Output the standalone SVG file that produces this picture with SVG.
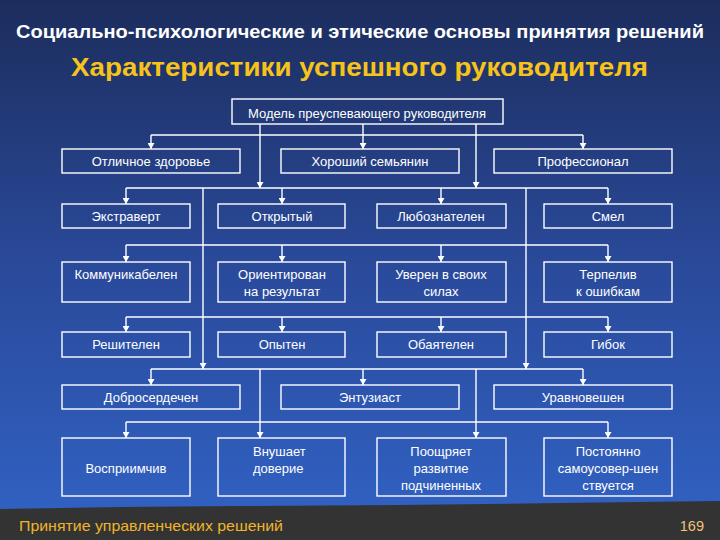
<svg xmlns="http://www.w3.org/2000/svg" width="720" height="540" viewBox="0 0 720 540">
<defs>
<linearGradient id="bg" x1="0" y1="0" x2="0" y2="1">
<stop offset="0" stop-color="#1c2d5d"/>
<stop offset="0.5" stop-color="#2a4a9b"/>
<stop offset="1" stop-color="#3163c6"/>
</linearGradient>
<marker id="ar" markerUnits="userSpaceOnUse" markerWidth="7" markerHeight="7" refX="6" refY="3.5" orient="auto">
<path d="M0,0 L6,3.5 L0,7 z" fill="#ffffff"/>
</marker>
<style>
.box{fill:none;stroke:#ffffff;stroke-width:1.4}
.t{font-family:"Liberation Sans",Arial,sans-serif;font-size:13px;fill:#ffffff;text-anchor:middle}
.ln{fill:none;stroke:#ffffff;stroke-width:1.4}
.a{fill:none;stroke:#ffffff;stroke-width:1.4;marker-end:url(#ar)}
</style>
</defs>
<rect x="0" y="0" width="720" height="540" fill="url(#bg)"/>
<polygon points="0,509 120,507 240,506 400,505 560,503 720,501 720,540 0,540" fill="#333333"/>
<text x="16" y="38" font-family="'Liberation Sans',Arial,sans-serif" font-size="18.5" font-weight="bold" fill="#ffffff" textLength="688" lengthAdjust="spacingAndGlyphs">Социально-психологические и этические основы принятия решений</text>
<text x="71" y="76" font-family="'Liberation Sans',Arial,sans-serif" font-size="26" font-weight="bold" fill="#f7c31a" textLength="577" lengthAdjust="spacingAndGlyphs">Характеристики успешного руководителя</text>
<text x="19" y="531" font-family="'Liberation Sans',Arial,sans-serif" font-size="14.5" fill="#f0b429" textLength="264" lengthAdjust="spacingAndGlyphs">Принятие управленческих решений</text>
<text x="704" y="531" font-family="'Liberation Sans',Arial,sans-serif" font-size="14.5" fill="#f2c27a" text-anchor="end">169</text>

<g id="connectors">
<path class="ln" d="M151,135 H583"/>
<path class="a" d="M363,124 V149"/>
<path class="a" d="M151,135 V149"/>
<path class="a" d="M583,135 V149"/>
<path class="a" d="M260,124 V188"/>
<path class="a" d="M476,124 V188"/>
<path class="ln" d="M126,188 H608"/>
<path class="a" d="M126,188 V204"/>
<path class="a" d="M282,188 V204"/>
<path class="a" d="M441,188 V204"/>
<path class="a" d="M608,188 V204"/>
<path class="a" d="M203,188 V369"/>
<path class="a" d="M526,188 V369"/>
<path class="ln" d="M126,245 H608"/>
<path class="a" d="M126,245 V262"/>
<path class="a" d="M282,245 V262"/>
<path class="a" d="M441,245 V262"/>
<path class="a" d="M608,245 V262"/>
<path class="ln" d="M126,317 H608"/>
<path class="a" d="M126,317 V332"/>
<path class="a" d="M282,317 V332"/>
<path class="a" d="M441,317 V332"/>
<path class="a" d="M608,317 V332"/>
<path class="ln" d="M151,369 H583"/>
<path class="a" d="M151,369 V385"/>
<path class="a" d="M363,369 V385"/>
<path class="a" d="M583,369 V385"/>
<path class="a" d="M260,369 V438"/>
<path class="a" d="M476,369 V438"/>
<path class="ln" d="M126,422 H608"/>
<path class="a" d="M126,422 V438"/>
<path class="a" d="M608,422 V438"/>
</g>

<g id="model"><rect class="box" x="232" y="99" width="271" height="25"/><text class="t" x="367" y="118">Модель преуспевающего руководителя</text></g>

<g id="n-health"><rect class="box" x="62" y="149" width="178" height="24"/><text class="t" x="151" y="165.5">Отличное здоровье</text></g>
<g id="n-family"><rect class="box" x="281" y="149" width="178" height="24"/><text class="t" x="370" y="165.5">Хороший семьянин</text></g>
<g id="n-prof"><rect class="box" x="494" y="149" width="178" height="24"/><text class="t" x="583" y="165.5">Профессионал</text></g>

<g id="n-extra"><rect class="box" x="62" y="204" width="128" height="24"/><text class="t" x="126" y="220.5">Экстраверт</text></g>
<g id="n-open"><rect class="box" x="218" y="204" width="127" height="24"/><text class="t" x="282" y="220.5">Открытый</text></g>
<g id="n-curious"><rect class="box" x="377" y="204" width="129" height="24"/><text class="t" x="441" y="220.5">Любознателен</text></g>
<g id="n-brave"><rect class="box" x="544" y="204" width="128" height="24"/><text class="t" x="608" y="220.5">Смел</text></g>

<g id="n-comm"><rect class="box" x="62" y="262" width="128" height="40"/><text class="t" x="126" y="279">Коммуникабелен</text></g>
<g id="n-result"><rect class="box" x="218" y="262" width="127" height="40"/><text class="t" x="282" y="279">Ориентирован</text><text class="t" x="282" y="296">на результат</text></g>
<g id="n-confident"><rect class="box" x="377" y="262" width="129" height="40"/><text class="t" x="441" y="279">Уверен в своих</text><text class="t" x="441" y="296">силах</text></g>
<g id="n-patient"><rect class="box" x="544" y="262" width="128" height="40"/><text class="t" x="608" y="279">Терпелив</text><text class="t" x="608" y="296">к ошибкам</text></g>

<g id="n-decisive"><rect class="box" x="62" y="332" width="128" height="25"/><text class="t" x="126" y="349">Решителен</text></g>
<g id="n-exp"><rect class="box" x="218" y="332" width="127" height="25"/><text class="t" x="282" y="349">Опытен</text></g>
<g id="n-charm"><rect class="box" x="377" y="332" width="129" height="25"/><text class="t" x="441" y="349">Обаятелен</text></g>
<g id="n-flex"><rect class="box" x="544" y="332" width="128" height="25"/><text class="t" x="608" y="349">Гибок</text></g>

<g id="n-kind"><rect class="box" x="62" y="385" width="178" height="24"/><text class="t" x="151" y="401.5">Добросердечен</text></g>
<g id="n-enth"><rect class="box" x="281" y="385" width="178" height="24"/><text class="t" x="370" y="401.5">Энтузиаст</text></g>
<g id="n-bal"><rect class="box" x="494" y="385" width="178" height="24"/><text class="t" x="583" y="401.5">Уравновешен</text></g>

<g id="n-recept"><rect class="box" x="62" y="438" width="128" height="58"/><text class="t" x="126" y="473">Восприимчив</text></g>
<g id="n-trust"><rect class="box" x="218" y="438" width="127" height="58"/><text class="t" x="253" y="456" style="text-anchor:start">Внушает</text><text class="t" x="253" y="473" style="text-anchor:start">доверие</text></g>
<g id="n-encour"><rect class="box" x="377" y="438" width="129" height="58"/><text class="t" x="441" y="456">Поощряет</text><text class="t" x="441" y="473">развитие</text><text class="t" x="441" y="490">подчиненных</text></g>
<g id="n-self"><rect class="box" x="544" y="438" width="128" height="58"/><text class="t" x="608" y="456">Постоянно</text><text class="t" x="608" y="473">самоусовер-шен</text><text class="t" x="608" y="490">ствуется</text></g>
</svg>
